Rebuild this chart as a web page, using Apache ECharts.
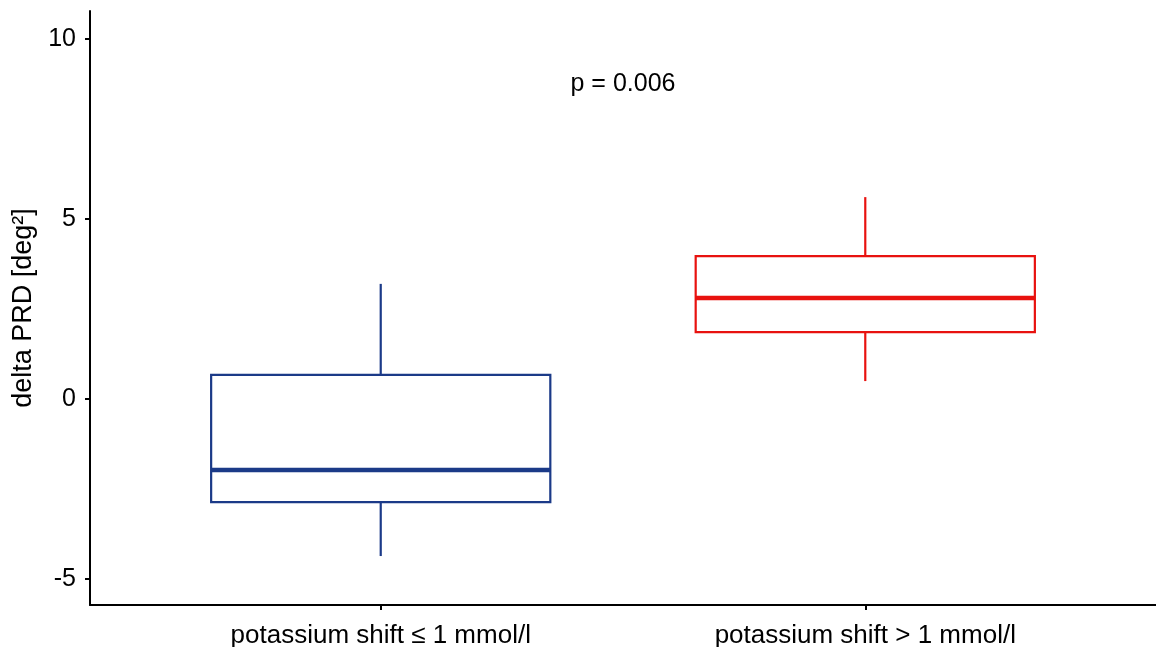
<!DOCTYPE html>
<html><head><meta charset="utf-8">
<script src="https://cdn.jsdelivr.net/npm/echarts@6/dist/echarts.min.js"></script>
<style>html,body{margin:0;padding:0;background:#fff}#c{width:1156px;height:647px}</style>
</head><body><div id="c"></div>
<script>
var categories = ['potassium shift \u2264 1 mmol/l', 'potassium shift > 1 mmol/l'];
var lowerWhisker = [-4.36, 0.5];
var q1 = [-2.86, 1.86];
var median = [-1.97, 2.81];
var q3 = [0.67, 3.97];
var upperWhisker = [3.2, 5.61];
var colors = ['#1b3a88', '#e8120f'];
var yTicks = [-5, 0, 5, 10];
var pLabel = 'p = 0.006';
var pPos = [1.5, 8.75];

var boxData = categories.map(function (c, i) {
  return [i + 1, lowerWhisker[i], q1[i], median[i], q3[i], upperWhisker[i]];
});
var font = 'Liberation Sans, Arial, Helvetica, sans-serif';
var chart = echarts.init(document.getElementById('c'));
chart.setOption({
  animation: false,
  grid: {left: 90, right: 0, top: 11, bottom: 42, containLabel: false, outerBoundsMode: 'none'},
  xAxis: {
    type: 'value', min: 0.4, max: 2.6,
    splitLine: {show: false},
    axisLine: {show: true, onZero: false, lineStyle: {color: '#000', width: 2}},
    axisTick: {show: true, length: 5, lineStyle: {color: '#000', width: 2}, customValues: [1, 2]},
    axisLabel: {customValues: [1, 2], color: '#000', fontSize: 26, fontFamily: font, margin: 18,
      formatter: function (v) { return categories[Math.round(v) - 1] || ''; }}
  },
  yAxis: {
    type: 'value', min: -5.72, max: 10.78,
    name: 'delta PRD [deg\u00b2]', nameLocation: 'middle', nameGap: 53,
    nameTextStyle: {color: '#000', fontSize: 27, fontFamily: font},
    splitLine: {show: false},
    axisLine: {show: true, onZero: false, lineStyle: {color: '#000', width: 2}},
    axisTick: {show: true, length: 5, lineStyle: {color: '#000', width: 2}, customValues: yTicks},
    axisLabel: {customValues: yTicks, color: '#000', fontSize: 25, fontFamily: font, margin: 14}
  },
  series: [{
    type: 'custom',
    data: boxData,
    encode: {x: 0, y: [1, 2, 3, 4, 5]},
    renderItem: function (params, api) {
      var x = api.value(0);
      var i = params.dataIndex;
      var col = colors[i];
      var halfW = api.size([0.7, 0])[0] / 2;
      var pLow = api.coord([x, api.value(1)]);
      var pQ1 = api.coord([x, api.value(2)]);
      var pMed = api.coord([x, api.value(3)]);
      var pQ3 = api.coord([x, api.value(4)]);
      var pHigh = api.coord([x, api.value(5)]);
      var cx = pQ1[0];
      var ls = {stroke: col, lineWidth: 2.2, fill: null};
      return {type: 'group', children: [
        {type: 'line', shape: {x1: cx, y1: pQ3[1], x2: cx, y2: pHigh[1]}, style: ls},
        {type: 'line', shape: {x1: cx, y1: pQ1[1], x2: cx, y2: pLow[1]}, style: ls},
        {type: 'rect', shape: {x: cx - halfW, y: pQ3[1], width: halfW * 2, height: pQ1[1] - pQ3[1]},
          style: {stroke: col, lineWidth: 2.2, fill: '#fff'}},
        {type: 'line', shape: {x1: cx - halfW, y1: pMed[1], x2: cx + halfW, y2: pMed[1]},
          style: {stroke: col, lineWidth: 4.5}}
      ]};
    }
  }, {
    type: 'custom',
    data: [pPos],
    encode: {x: 0, y: 1},
    silent: true,
    renderItem: function (params, api) {
      var p = api.coord([api.value(0), api.value(1)]);
      return {type: 'text', x: p[0], y: p[1], style: {text: pLabel, fill: '#000',
        font: '25px ' + font, align: 'center', verticalAlign: 'middle'}};
    }
  }]
});
</script></body></html>
